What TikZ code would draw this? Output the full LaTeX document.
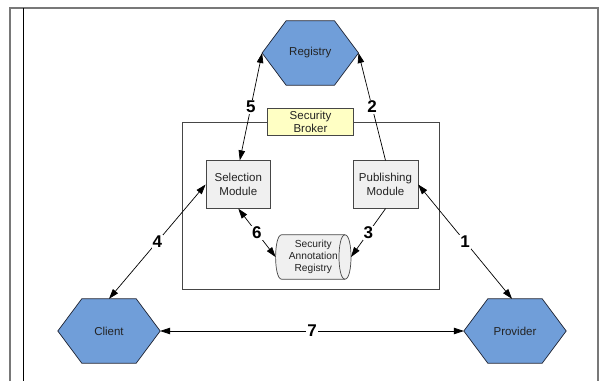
\documentclass[tikz,border=0pt]{standalone}
\usepackage{fontspec}
\setmainfont{Liberation Sans}
\usetikzlibrary{arrows.meta,backgrounds}
\definecolor{hexblue}{RGB}{112,158,217}
\definecolor{hexline}{RGB}{30,35,50}
\definecolor{modgray}{RGB}{240,240,240}
\definecolor{modline}{RGB}{70,70,70}
\definecolor{brokeryellow}{RGB}{255,255,196}
\definecolor{textcol}{RGB}{35,35,35}
\definecolor{framegray}{RGB}{120,120,120}
\begin{document}
\begin{tikzpicture}[x=1pt,y=-1pt,
  hexnode/.style={minimum width=#1, minimum height=64pt, inner sep=0pt,
    font=\fontsize{11.5}{13.5}\selectfont, text=textcol},
  hexshape/.style={fill=hexblue, draw=hexline, line width=0.7pt, line join=miter},
  module/.style={draw=modline, fill=modgray, line width=0.7pt, minimum width=64.7pt,
    minimum height=47.6pt, inner sep=0pt, align=center, text=textcol,
    font=\fontsize{11.5}{13.3}\selectfont},
  brokerlabel/.style={draw=modline, fill=brokeryellow, line width=0.7pt, minimum width=85.6pt,
    minimum height=26.3pt, inner sep=0pt, align=center, text=textcol,
    font=\fontsize{11.5}{13.5}\selectfont},
  brokerbox/.style={draw=modline, line width=0.8pt, minimum width=256.6pt,
    minimum height=166.7pt, inner sep=0pt},
  cylnode/.style={minimum width=75pt, minimum height=44pt, inner sep=0pt, align=center,
    text=textcol, font=\fontsize{10.2}{12.3}\selectfont},
  cylshape/.style={draw=modline, fill=modgray, line width=0.7pt},
  conn/.style={draw=black, line width=0.7pt},
  tip/.tip={Triangle[length=10pt,width=6.5pt]},
  num/.style={font=\bfseries\fontsize{17}{17}\selectfont, fill=white, inner sep=1pt, text=black}
]
\useasboundingbox (0,0) rectangle (599,381);
% page frame
\draw[framegray, line width=1.2pt] (10,381) -- (10,8) -- (598,8) -- (598,381);
\draw[black, line width=1pt] (23,8) -- (23,381);

% security broker container
\node[brokerbox] (brokerbox) at (311,205.65) {};
\node[brokerlabel] (broker) at (310.5,121.8) {Security\\Broker};

% hexagons
\node[hexnode=96pt] (reg) at (310.3,53) {Registry};
\node[hexnode=102pt] (cli) at (109,331) {Client};
\node[hexnode=102pt] (prov) at (515,331) {Provider};

% modules
\node[module] (sel) at (238.3,184.5) {Selection\\Module};
\node[module] (pub) at (385.5,184.5) {Publishing\\Module};
\node[cylnode] (sar) at (313.3,257) {Security\\Annotation\\Registry};

\begin{scope}[on background layer]
\foreach \n in {reg,cli,prov}
  \draw[hexshape] (\n.west) -- ([xshift=24pt]\n.north west) -- ([xshift=-24pt]\n.north east)
     -- (\n.east) -- ([xshift=-24pt]\n.south east) -- ([xshift=24pt]\n.south west) -- cycle;
\draw[cylshape] ([xshift=6pt]sar.north west)
   .. controls ([xshift=-2pt]sar.north west) and ([xshift=-2pt]sar.south west) .. ([xshift=6pt]sar.south west)
   -- ([xshift=-6pt]sar.south east)
   .. controls ([xshift=2pt]sar.south east) and ([xshift=2pt]sar.north east) .. ([xshift=-6pt]sar.north east)
   -- cycle;
\draw[cylshape, fill=none] ([xshift=-6pt]sar.north east)
   .. controls ([xshift=-14pt]sar.north east) and ([xshift=-14pt]sar.south east) .. ([xshift=-6pt]sar.south east);
\end{scope}

% connectors
\draw[conn,tip-tip] (reg.west) -- node[num]{5} ([xshift=1.5pt]sel.north);
\draw[conn,-tip] (pub.north) -- node[num]{2} (reg.east);
\draw[conn,tip-tip] (cli.north) -- node[num]{4} (sel.west);
\draw[conn,tip-tip] (pub.east) -- node[num]{1} ([xshift=-3pt]prov.north);
\draw[conn,tip-tip] (sel.south) -- node[num]{6} (sar.west);
\draw[conn,-tip] (pub.south) -- node[num]{3} (sar.east);
\draw[conn,tip-tip] (cli.east) -- node[num]{7} (prov.west);
\end{tikzpicture}
\end{document}
